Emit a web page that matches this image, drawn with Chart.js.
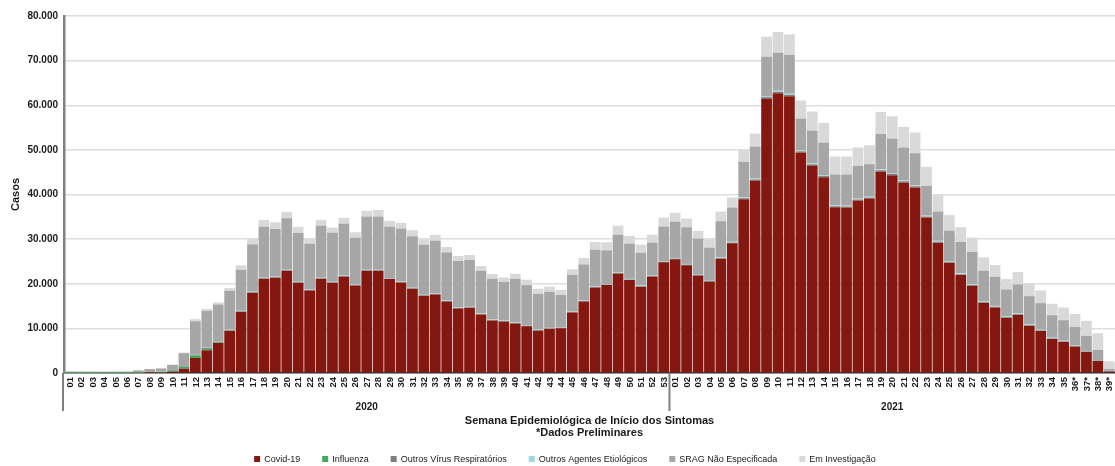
<!DOCTYPE html>
<html>
<head>
<meta charset="utf-8">
<script src="https://cdn.jsdelivr.net/npm/chart.js@4.4.1/dist/chart.umd.min.js"></script>
<style>
html,body{margin:0;padding:0;background:#fff;}
#wrap{width:1115px;height:466px;position:relative;}
</style>
</head>
<body>
<div id="wrap"><canvas id="c" width="1115" height="466"></canvas></div>
<script>
const weeks2020 = ['01','02','03','04','05','06','07','08','09','10','11','12','13','14','15','16','17','18','19','20','21','22','23','24','25','26','27','28','29','30','31','32','33','34','35','36','37','38','39','40','41','42','43','44','45','46','47','48','49','50','51','52','53'];
const weeks2021 = ['01','02','03','04','05','06','07','08','09','10','11','12','13','14','15','16','17','18','19','20','21','22','23','24','25','26','27','28','29','30','31','32','33','34','35','36*','37*','38*','39*'];
const years = ['2020','2021'];
const yTicks = [0,10000,20000,30000,40000,50000,60000,70000,80000];

const covid = [0,0,0,0,0,0,0,30,80,350,970,3370,5090,6740,9440,13700,17980,21120,21350,22920,20220,18500,21120,20220,21650,19630,22920,22920,21050,20300,18880,17300,17600,16030,14460,14610,13110,11760,11540,11090,10490,9510,9890,10040,13560,16030,19180,19700,22320,20820,19330,21650,24790,
  25470,24120,21870,20520,25620,29060,38950,43140,61500,62690,62020,49410,46500,43890,37150,37080,38650,39100,45160,44340,42700,41580,34830,29210,24720,21950,19550,15730,14680,12360,13030,10560,9440,7640,6970,5920,4720,2700,370];
const influenza = [40,40,30,30,30,40,60,100,200,250,400,600,300,150,80,50,40,30,20,20,20,20,20,20,20,20,20,20,20,20,20,20,20,20,20,20,20,20,20,20,20,20,20,20,20,20,20,20,20,20,20,20,20,
  20,20,20,20,20,20,20,20,20,20,20,20,20,20,20,20,20,20,20,20,20,20,20,20,20,20,20,20,20,20,20,20,20,20,20,20,20,20,10];
const outrosVirus = [20,20,20,20,20,20,30,40,50,60,150,150,200,150,100,100,100,100,100,100,100,100,100,100,100,100,100,100,100,100,100,100,100,100,100,100,100,100,100,100,100,100,100,100,100,100,100,100,100,100,100,100,120,
  150,150,150,150,150,150,200,200,300,300,300,250,250,250,200,200,200,200,250,250,250,250,200,200,150,150,150,150,150,150,150,150,100,100,100,100,100,100,50];
const outrosAgentes = [10,10,10,10,10,10,10,10,20,20,30,50,60,60,80,80,100,100,100,100,100,100,100,100,100,100,100,100,100,100,100,100,100,100,100,100,100,100,100,100,100,100,100,100,100,100,100,100,150,150,150,150,150,
  150,150,150,150,150,200,200,200,250,250,250,200,200,200,200,200,200,200,200,200,200,200,200,200,200,200,200,200,200,200,200,150,150,150,150,100,100,100,50];
const sragNE = [270,250,250,250,250,260,480,700,670,1150,2900,7430,8280,8260,8730,9220,10620,11450,10710,11540,10950,10270,11690,11020,11610,10490,11920,11920,11540,11840,11540,11240,11840,10790,10410,10490,9590,9140,8690,9810,8990,8020,8090,7270,8240,8090,8240,7570,8420,7900,7370,7290,7730,
  8140,8220,7920,7250,8070,7650,7950,7190,8830,8530,8680,7140,7360,7290,6920,6990,7350,7280,7960,7730,7360,7210,6700,6550,6820,7040,7200,6820,6520,6000,6450,6350,5950,5050,4600,4200,3370,2250,420];
const emInvestigacao = [10,10,10,10,10,10,20,20,30,40,120,460,450,440,600,970,1270,1500,1500,1420,1340,1050,1270,1120,1280,1200,1270,1490,1270,1270,1350,1200,1280,1200,1130,1120,1050,1050,970,1130,1200,1130,1130,1120,1200,1430,1720,1800,2020,1720,1790,1800,2020,
  1950,1950,1730,1870,2170,2250,2830,2910,4470,4630,4620,4030,4260,4400,4020,4020,4110,4250,4920,5000,4620,4630,4250,3670,3450,3300,3220,3000,2620,2320,2770,2840,2840,2550,2840,2920,3380,3740,1720];

const seriesNames = ['Covid-19','Influenza','Outros Vírus Respiratórios','Outros Agentes Etiológicos','SRAG Não Especificada','Em Investigação'];
const seriesColors = ['#84170f','#3daa5c','#7f7f7f','#9fd9dc','#a6a6a6','#d9d9d9'];
const seriesData = [covid, influenza, outrosVirus, outrosAgentes, sragNE, emInvestigacao];

const labels = weeks2020.concat(weeks2021);
const FONT = '"Liberation Sans", Arial, Helvetica, sans-serif';
Chart.defaults.font.family = FONT;

function fmt(v){ return String(v).replace(/\B(?=(\d{3})+(?!\d))/g,'.'); }

const below = {
  id:'below',
  afterDraw(chart){
    const {ctx, chartArea, scales} = chart;
    const x = scales.x;
    const b = chartArea.bottom;
    ctx.save();
    // week labels (rotated, reading bottom to top)
    ctx.font = 'bold 9.5px ' + FONT;
    ctx.fillStyle = '#1a1a1a';
    ctx.textAlign = 'right';
    ctx.textBaseline = 'middle';
    labels.forEach((lab,i)=>{
      const px = x.getPixelForValue(i);
      ctx.save();
      ctx.translate(px+0.5, b+4);
      ctx.rotate(-Math.PI/2);
      ctx.fillText(lab,0,0);
      ctx.restore();
    });
    // axis lines below
    ctx.strokeStyle = '#808080';
    ctx.lineWidth = 2;
    const sepX = (x.getPixelForValue(weeks2020.length-1)+x.getPixelForValue(weeks2020.length))/2;
    ctx.beginPath();
    ctx.moveTo(chartArea.left-1, b); ctx.lineTo(chartArea.left-1, 411);
    ctx.moveTo(sepX, b); ctx.lineTo(sepX, 411);
    ctx.stroke();
    // year labels
    ctx.font = 'bold 10px ' + FONT;
    ctx.textAlign = 'center';
    ctx.textBaseline = 'middle';
    const c2020 = (x.getPixelForValue(0)+x.getPixelForValue(weeks2020.length-1))/2;
    const c2021 = (x.getPixelForValue(weeks2020.length)+x.getPixelForValue(labels.length-1))/2;
    ctx.fillText(years[0], c2020, 407);
    ctx.fillText(years[1], c2021, 407);
    // axis title
    const cx = (chartArea.left+chartArea.right)/2;
    ctx.font = 'bold 11px ' + FONT;
    ctx.fillText('Semana Epidemiológica de Início dos Sintomas', cx, 421);
    ctx.fillText('*Dados Preliminares', cx, 433);
    // legend
    ctx.font = '9px ' + FONT;
    const box = 6, gapBT = 4, gapItem = 22;
    const widths = seriesNames.map(n=>ctx.measureText(n).width);
    const total = widths.reduce((a,w)=>a+box+gapBT+w,0) + gapItem*(seriesNames.length-1);
    let lx = 565 - total/2;
    const ly = 459;
    ctx.textAlign = 'left';
    seriesNames.forEach((n,i)=>{
      ctx.fillStyle = seriesColors[i];
      ctx.fillRect(lx, ly-3, box, box);
      ctx.fillStyle = '#1a1a1a';
      ctx.fillText(n, lx+box+gapBT, ly+0.5);
      lx += box+gapBT+widths[i]+gapItem;
    });
    ctx.restore();
  }
};

new Chart(document.getElementById('c'), {
  type:'bar',
  data:{
    labels: labels,
    datasets: seriesNames.map((n,i)=>({
      label:n,
      data: seriesData[i],
      backgroundColor: seriesColors[i],
      borderWidth: 0,
      barPercentage: 0.94,
      categoryPercentage: 1.0
    }))
  },
  options:{
    responsive:false,
    animation:false,
    layout:{padding:{top:16,right:0,bottom:93,left:0}},
    plugins:{legend:{display:false},tooltip:{enabled:false}},
    scales:{
      x:{
        stacked:true,
        offset:true,
        ticks:{display:false},
        grid:{display:false, drawTicks:false},
        border:{display:true,color:'#3a3a3a',width:1.5}
      },
      y:{
        stacked:true,
        min:0,max:80000,
        afterBuildTicks(scale){ scale.ticks = yTicks.map(v=>({value:v})); },
        afterFit(scale){ scale.width = 64; },
        ticks:{
          callback:(v)=>fmt(v),
          font:{size:10,weight:'bold',family:FONT},
          color:'#1a1a1a',
          padding:6
        },
        grid:{color:'#dedede',lineWidth:1.5,drawTicks:false},
        border:{display:true,color:'#808080',width:2.5},
        title:{display:true,text:'Casos',font:{size:11,weight:'bold',family:FONT},color:'#1a1a1a',padding:{top:9,bottom:0}}
      }
    }
  },
  plugins:[below]
});
</script>
</body>
</html>
